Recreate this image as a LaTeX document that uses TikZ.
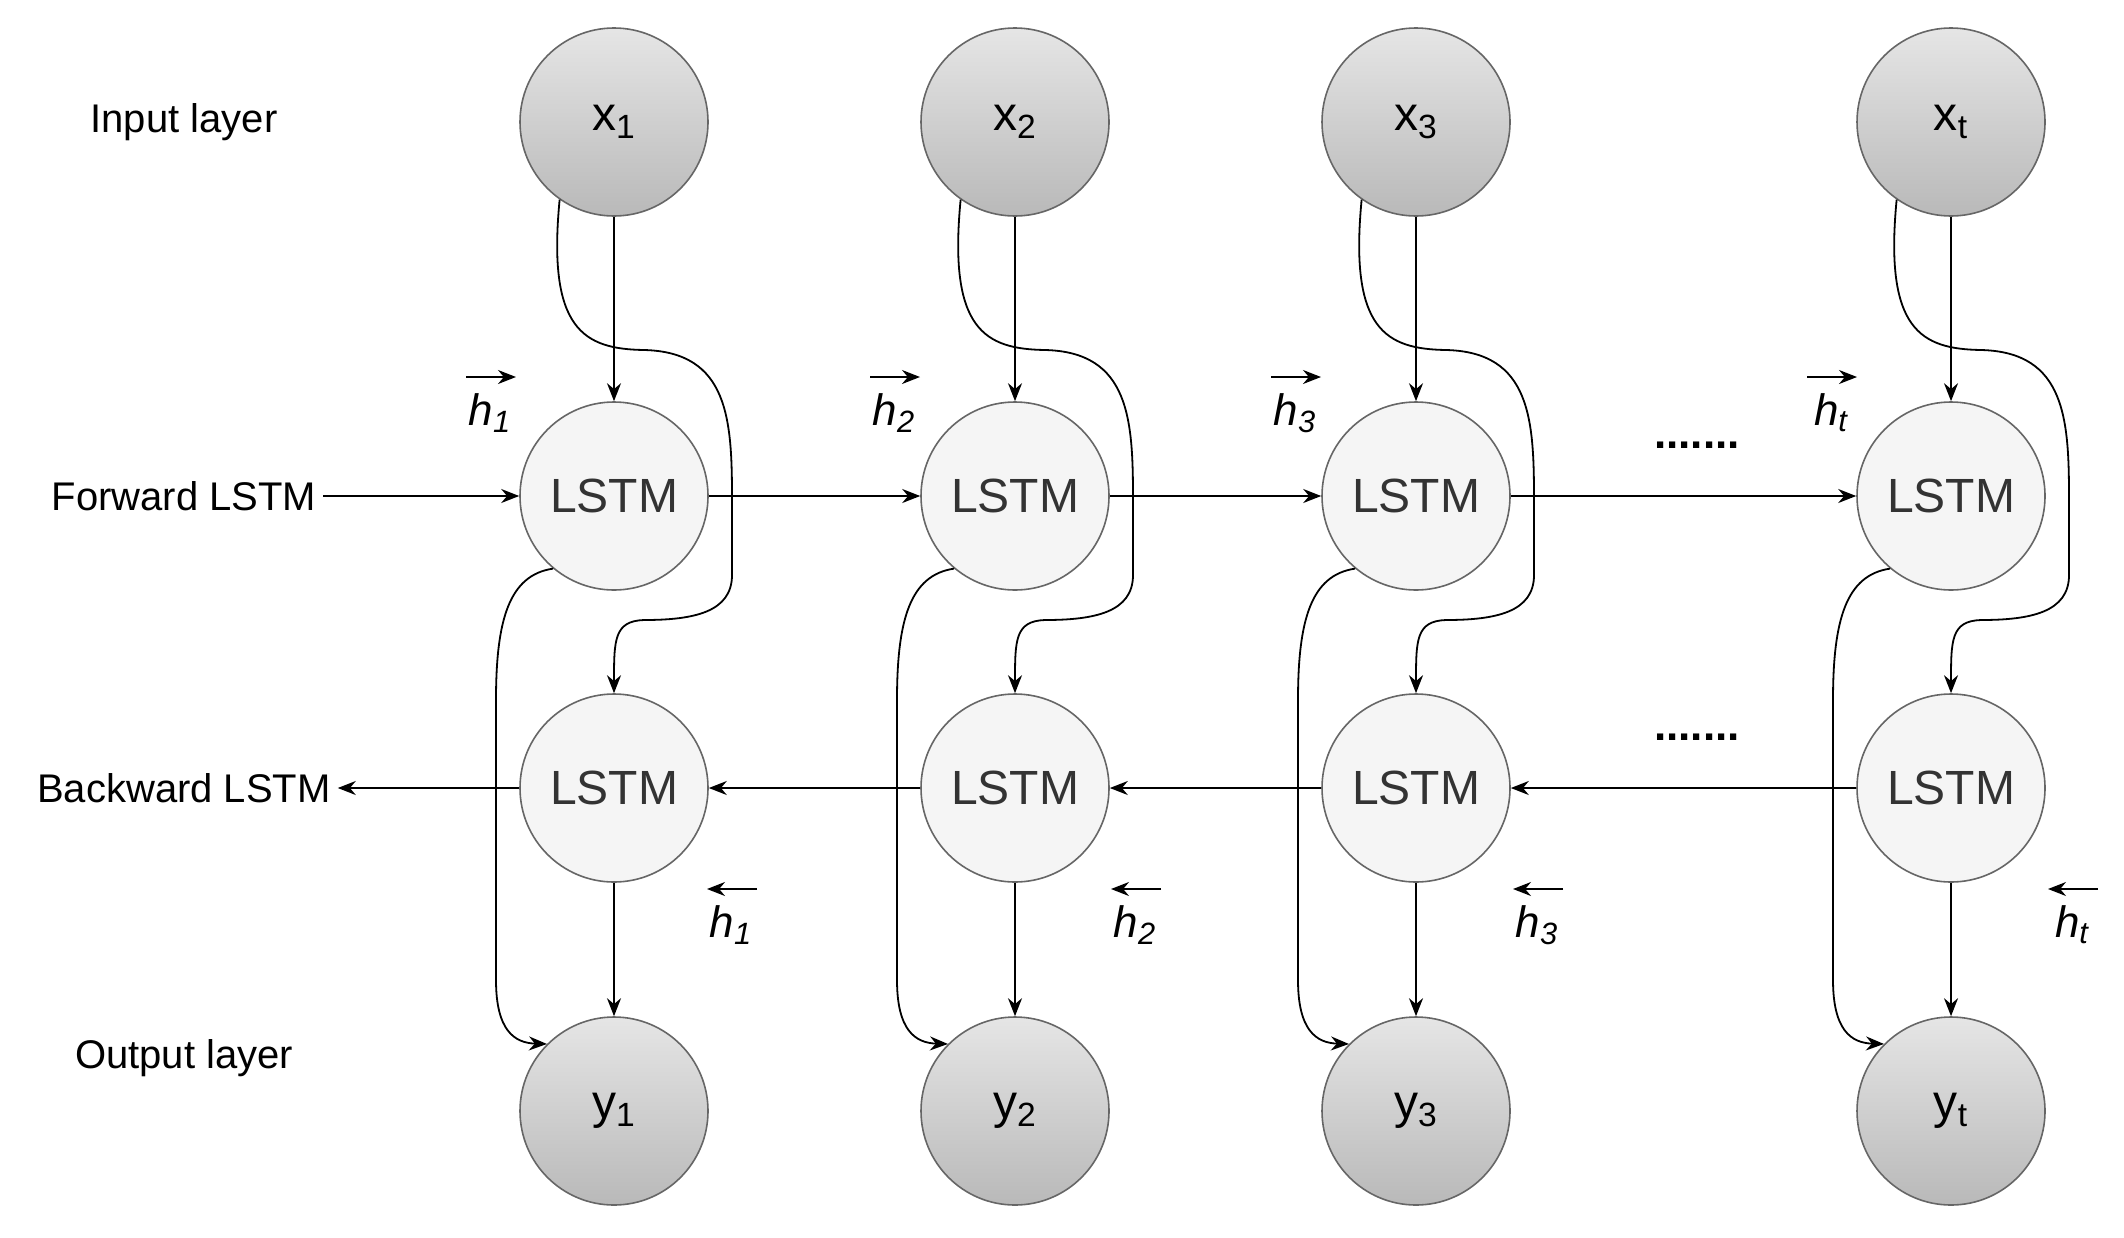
\documentclass[tikz,border=0pt]{standalone}
\usepackage{fontspec}
\setmainfont{Liberation Sans}
\usetikzlibrary{arrows.meta}
\definecolor{txt}{HTML}{333333}
\begin{document}
\begin{tikzpicture}[x=0.5pt,y=-0.5pt,
  io/.style={circle,draw=gray!80!black,line width=0.8pt,minimum size=94pt,inner sep=0pt,top color=gray!20,bottom color=gray!55,font=\fontsize{24}{28}\selectfont},
  lstm/.style={circle,draw=gray!80!black,line width=0.8pt,minimum size=94pt,inner sep=0pt,fill=gray!8,text=txt,font=\fontsize{24}{28}\selectfont},
  lbl/.style={font=\fontsize{20}{24}\selectfont},
  hl/.style={font=\fontsize{22}{26}\selectfont\itshape},
  arr/.style={line width=0.9pt,-{Stealth[length=9pt,width=7pt]}},
  crv/.style={line width=0.9pt}]
\useasboundingbox (0,0) rectangle (2124,1237);
\node[lbl] (lin) at (184,122) {Input layer};
\node[lbl] (lfw) at (184,496) {Forward LSTM};
\node[lbl] (lbw) at (184,788) {Backward LSTM};
\node[lbl] (lout) at (184,1058) {Output layer};
\foreach \i/\cx/\s in {1/614/1,2/1015/2,3/1416/3,4/1951/t}{
  \node[io] (x\i) at (\cx,122) {x\textsubscript{\s}};
  \node[lstm] (f\i) at (\cx,496) {LSTM};
  \node[lstm] (b\i) at (\cx,788) {LSTM};
  \node[io] (y\i) at (\cx,1111) {y\textsubscript{\s}};
  \draw[arr] (x\i) -- (f\i);
  \draw[arr] (b\i) -- (y\i);
  \draw[crv,-{Stealth[length=9pt,width=7pt]}] (x\i.235) .. controls (\cx-67,330) and (\cx-30,349) .. (\cx+30,350)
     .. controls (\cx+115,352) and (\cx+118,420) .. (\cx+118,500) -- (\cx+118,575)
     .. controls (\cx+118,612) and (\cx+80,620) .. (\cx+30,620)
     .. controls (\cx,621) and (\cx,640) .. (b\i.north);
  \draw[crv,-{Stealth[length=9pt,width=7pt]}] (f\i.230) .. controls (\cx-105,575) and (\cx-118,620) .. (\cx-118,700) -- (\cx-118,980)
     .. controls (\cx-118,1030) and (\cx-100,1043) .. (y\i.135);
}
\draw[arr] (lfw.east) -- (f1);
\draw[arr] (b1) -- (lbw.east);
\draw[arr] (f1) -- (f2);
\draw[arr] (f2) -- (f3);
\draw[arr] (f3) -- (f4);
\draw[arr] (b4) -- (b3);
\draw[arr] (b3) -- (b2);
\draw[arr] (b2) -- (b1);
\node[font=\fontsize{22}{24}\selectfont\bfseries] (d1) at (1697,445) {.......};
\node[font=\fontsize{22}{24}\selectfont\bfseries] (d2) at (1697,737) {.......};
\foreach \n/\x/\s in {1/490/1,2/894/2,3/1295/3,4/1831/t}{
  \node[hl] (hf\n) at (\x,413) {h\textsubscript{\s}};
  \draw[arr,line width=0.8pt] ([xshift=-12pt,yshift=18pt]hf\n.center) -- ([xshift=13pt,yshift=18pt]hf\n.center);
}
\foreach \n/\x/\s in {1/731/1,2/1135/2,3/1537/3,4/2072/t}{
  \node[hl] (hb\n) at (\x,925) {h\textsubscript{\s}};
  \draw[arr,line width=0.8pt] ([xshift=13pt,yshift=18pt]hb\n.center) -- ([xshift=-12pt,yshift=18pt]hb\n.center);
}
\end{tikzpicture}
\end{document}
